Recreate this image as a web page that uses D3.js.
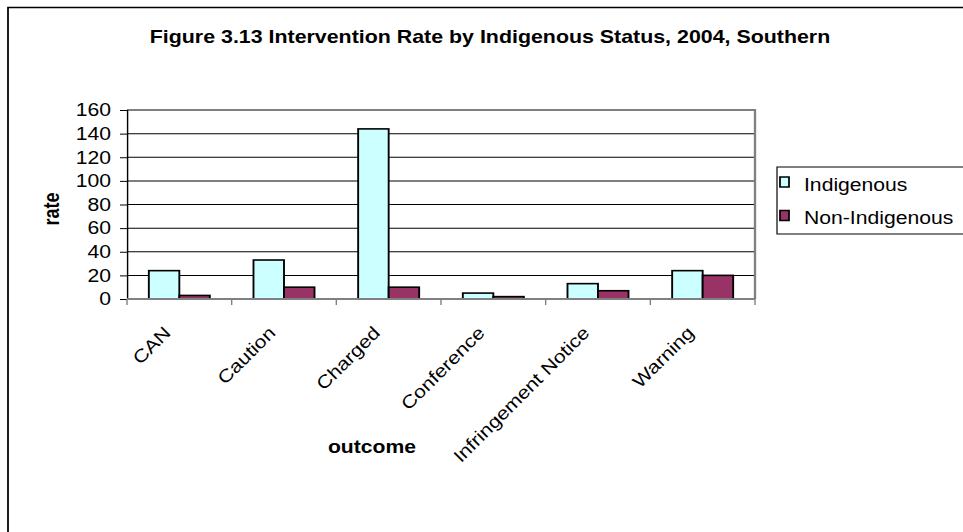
<!DOCTYPE html>
<html>
<head>
<meta charset="utf-8">
<script src="https://cdn.jsdelivr.net/npm/d3@7"></script>
<style>
  html, body { margin: 0; padding: 0; background: #fff; overflow: hidden; }
  svg { display: block; overflow: hidden; }
  text { font-family: Arial, "Liberation Sans", sans-serif; fill: #000; }
</style>
</head>
<body>
<svg id="chart"></svg>
<script>
// Chart data
const categories = ["CAN", "Caution", "Charged", "Conference", "Infringement Notice", "Warning"];
const seriesNames = ["Indigenous", "Non-Indigenous"];
const indigenous = [24, 33, 144, 5, 13, 24];
const nonIndigenous = [3, 10, 10, 2, 7, 20];
const yTicks = [0, 20, 40, 60, 80, 100, 120, 140, 160];
const titleText = "Figure 3.13 Intervention Rate by Indigenous Status, 2004, Southern";

// The drawing is laid out on a narrower canvas and stretched to the page width.
const outW = 963, outH = 532;
const sx = 1.175;
const X = v => v / sx;             // page pixels -> canvas units (horizontal)
const W = outW / sx;

const svg = d3.select("#chart")
  .attr("width", outW).attr("height", outH)
  .attr("viewBox", `0 0 ${W} ${outH}`)
  .attr("preserveAspectRatio", "none");

// Outer chart frame: only the top and left edges fall inside the page
svg.append("path")
  .attr("d", `M${X(8)},${outH}V7.5H${W}`)
  .attr("fill", "none").attr("stroke", "#000").attr("stroke-width", 1.5);

const plot = { x0: X(127), x1: X(755), y0: 110, y1: 299 };

const x = d3.scaleBand().domain(categories)
  .range([plot.x0, plot.x1]).paddingInner(0.417).paddingOuter(0.2085);
const xs = d3.scaleBand().domain(seriesNames).range([0, x.bandwidth()]).padding(0);
const y = d3.scaleLinear().domain([0, 160]).range([plot.y1, plot.y0]);
const color = d3.scaleOrdinal().domain(seriesNames).range(["#CCFFFF", "#993366"]);

// Gridlines
svg.append("g").selectAll("line").data(yTicks.filter(t => t > 0)).join("line")
  .attr("x1", plot.x0).attr("x2", plot.x1)
  .attr("y1", d => y(d)).attr("y2", d => y(d))
  .attr("stroke", "#000").attr("stroke-width", 1);

// Plot area border (top and right)
svg.append("path")
  .attr("d", `M${plot.x0},${plot.y0}H${plot.x1}V${plot.y1}`)
  .attr("fill", "none").attr("stroke", "#808080").attr("stroke-width", 2);

// Bars
const rows = categories.map((c, i) => ({ cat: c, vals: [indigenous[i], nonIndigenous[i]] }));
const groups = svg.append("g").selectAll("g").data(rows).join("g")
  .attr("transform", d => `translate(${x(d.cat)},0)`);
groups.selectAll("rect")
  .data(d => d.vals.map((v, k) => ({ name: seriesNames[k], v })))
  .join("rect")
  .attr("x", d => xs(d.name))
  .attr("y", d => y(d.v))
  .attr("width", xs.bandwidth())
  .attr("height", d => y(0) - y(d.v))
  .attr("fill", d => color(d.name))
  .attr("stroke", "#000").attr("stroke-width", 1.6);

// Y axis
const yAxis = svg.append("g")
  .attr("transform", `translate(${plot.x0},0)`)
  .call(d3.axisLeft(y).tickValues(yTicks).tickSize(X(7)).tickPadding(X(9)));
yAxis.select(".domain").attr("stroke", "#000").attr("stroke-width", 1.2);
yAxis.selectAll(".tick line").attr("stroke", "#000");
yAxis.selectAll(".tick text").attr("font-size", 18).attr("font-family", "Arial, 'Liberation Sans', sans-serif");

// X axis: baseline and category separators
const xAxisG = svg.append("g");
xAxisG.append("line")
  .attr("x1", plot.x0).attr("x2", plot.x1)
  .attr("y1", plot.y1).attr("y2", plot.y1)
  .attr("stroke", "#808080").attr("stroke-width", 2);
const step = x.step();
xAxisG.selectAll("line.sep").data(d3.range(categories.length + 1)).join("line")
  .attr("class", "sep")
  .attr("x1", i => plot.x0 + i * step).attr("x2", i => plot.x0 + i * step)
  .attr("y1", plot.y1).attr("y2", plot.y1 + 6)
  .attr("stroke", "#808080").attr("stroke-width", 1.2);

// Category labels, slanted at 45 degrees in page space
const labelLayer = svg.append("g").attr("transform", `scale(${1 / sx},1)`);
labelLayer.selectAll("text").data(categories).join("text")
  .attr("transform", d => {
    const px = (x(d) + x.bandwidth() / 2) * sx - 7.5;
    return `translate(${px},334) rotate(-45) scale(${sx},1)`;
  })
  .attr("text-anchor", "end")
  .attr("font-size", 18)
  .text(d => d);

// Axis titles
svg.append("text")
  .attr("transform", `translate(${X(59)},209) rotate(-90)`)
  .attr("text-anchor", "middle")
  .attr("font-size", 18).attr("font-weight", "bold")
  .text("rate");

svg.append("text")
  .attr("x", X(372)).attr("y", 453)
  .attr("text-anchor", "middle")
  .attr("font-size", 18).attr("font-weight", "bold")
  .text("outcome");

// Title
svg.append("text")
  .attr("x", X(490)).attr("y", 43)
  .attr("text-anchor", "middle")
  .attr("font-size", 18.2).attr("font-weight", "bold")
  .text(titleText);

// Legend box: its right edge lies beyond the page
const legend = svg.append("g");
legend.append("path")
  .attr("d", `M${W},167H${X(777)}V234H${W}`)
  .attr("fill", "#fff").attr("stroke", "#000").attr("stroke-width", 1);
const items = legend.selectAll("g.item").data(seriesNames).join("g")
  .attr("class", "item")
  .attr("transform", (d, i) => `translate(0,${i * 33.5})`);
items.append("rect")
  .attr("x", X(780)).attr("y", 177)
  .attr("width", X(9)).attr("height", 10)
  .attr("fill", d => color(d)).attr("stroke", "#000").attr("stroke-width", 1.5);
items.append("text")
  .attr("x", X(804)).attr("y", 191)
  .attr("font-size", 18)
  .text(d => d);
</script>
</body>
</html>
